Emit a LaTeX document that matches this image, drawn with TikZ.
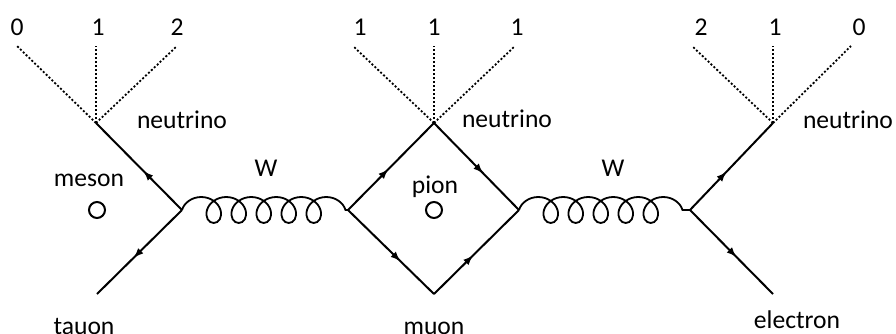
\documentclass[tikz,border=0pt]{standalone}
\usepackage{fontspec}
\setmainfont{Carlito}
\usetikzlibrary{arrows.meta, decorations.pathmorphing, decorations.markings}

\begin{document}
\begin{tikzpicture}[x=0.5pt, y=-0.5pt,
    lbl/.style={font=\fontsize{12.8}{15}\selectfont, inner sep=0pt, anchor=base},
    fermion/.style={line width=1pt, postaction={decorate},
      decoration={markings, mark=at position #1 with {\arrow{Latex[length=5pt, width=3.8pt]}}}},
    fermion/.default=0.5,
    wboson/.style={line width=0.9pt, decorate,
      decoration={coil, amplitude=6.5pt, segment length=12.5pt, aspect=1}},
    scalar/.style={line width=0.9pt, dash pattern=on 1pt off 1pt},
    blob/.style={draw, circle, line width=1pt, minimum size=8pt, inner sep=0pt}]
            \useasboundingbox (0,0) rectangle (896,333);
            % Nodes
            \coordinate (vL) at (182,210);
            \coordinate (nuL) at (96,123);
            \coordinate (tau) at (97,294);
            \coordinate (dL) at (348,210);
            \coordinate (dT) at (434,123);
            \coordinate (dR) at (519,210);
            \coordinate (dB) at (434,294);
            \coordinate (vR) at (690,210);
            \coordinate (nuR) at (773,123);
            \coordinate (el) at (773,294);
            \coordinate (fL0) at (17,46);
            \coordinate (fL1) at (96,46);
            \coordinate (fL2) at (177,46);
            \coordinate (fM0) at (353,46);
            \coordinate (fM1) at (434,46);
            \coordinate (fM2) at (515,46);
            \coordinate (fR0) at (692,46);
            \coordinate (fR1) at (773,46);
            \coordinate (fR2) at (851,46);
            \node[lbl] (sL0) at (17,35) {0};
            \node[lbl] (sL1) at (98,35) {1};
            \node[lbl] (sL2) at (177,35) {2};
            \node[lbl] (sM0) at (360,35) {1};
            \node[lbl] (sM1) at (434,35) {1};
            \node[lbl] (sM2) at (517,35) {1};
            \node[lbl] (sR0) at (701,35) {2};
            \node[lbl] (sR1) at (775,35) {1};
            \node[lbl] (sR2) at (859,35) {0};
            \node[lbl] (nuLtxt) at (182,128) {neutrino};
            \node[lbl] (nuMtxt) at (507,127) {neutrino};
            \node[lbl] (nuRtxt) at (848,128) {neutrino};
            \node[lbl] (meson) at (89,186) {meson};
            \node[lbl] (pion) at (435,193) {pion};
            \node[lbl] (wL) at (266,176) {W};
            \node[lbl] (wR) at (613,176) {W};
            \node[lbl] (tauon) at (84,334) {tauon};
            \node[lbl] (muon) at (434,334) {muon};
            \node[lbl] (electron) at (797,328) {electron};
            \node[blob] (mesonc) at (97,210) {};
            \node[blob] (pionc) at (434,210) {};
            % Arrows
            \draw[fermion=0.45] (vL) -- (nuL);
            \draw[fermion=0.57] (vL) -- (tau);
            \draw[fermion=0.47] (dL) -- (dT);
            \draw[fermion=0.58] (dT) -- (dR);
            \draw[fermion=0.61] (dL) -- (dB);
            \draw[fermion=0.46] (dB) -- (dR);
            \draw[fermion=0.44] (vR) -- (nuR);
            \draw[fermion=0.56] (vR) -- (el);
            \draw[wboson] (vL) -- (dL);
            \draw[wboson] (dR) -- (vR);
            \draw[scalar] (nuL) -- (fL0);
            \draw[scalar] (nuL) -- (fL1);
            \draw[scalar] (nuL) -- (fL2);
            \draw[scalar] (dT) -- (fM0);
            \draw[scalar] (dT) -- (fM1);
            \draw[scalar] (dT) -- (fM2);
            \draw[scalar] (nuR) -- (fR0);
            \draw[scalar] (nuR) -- (fR1);
            \draw[scalar] (nuR) -- (fR2);
        \end{tikzpicture}
\end{document}
